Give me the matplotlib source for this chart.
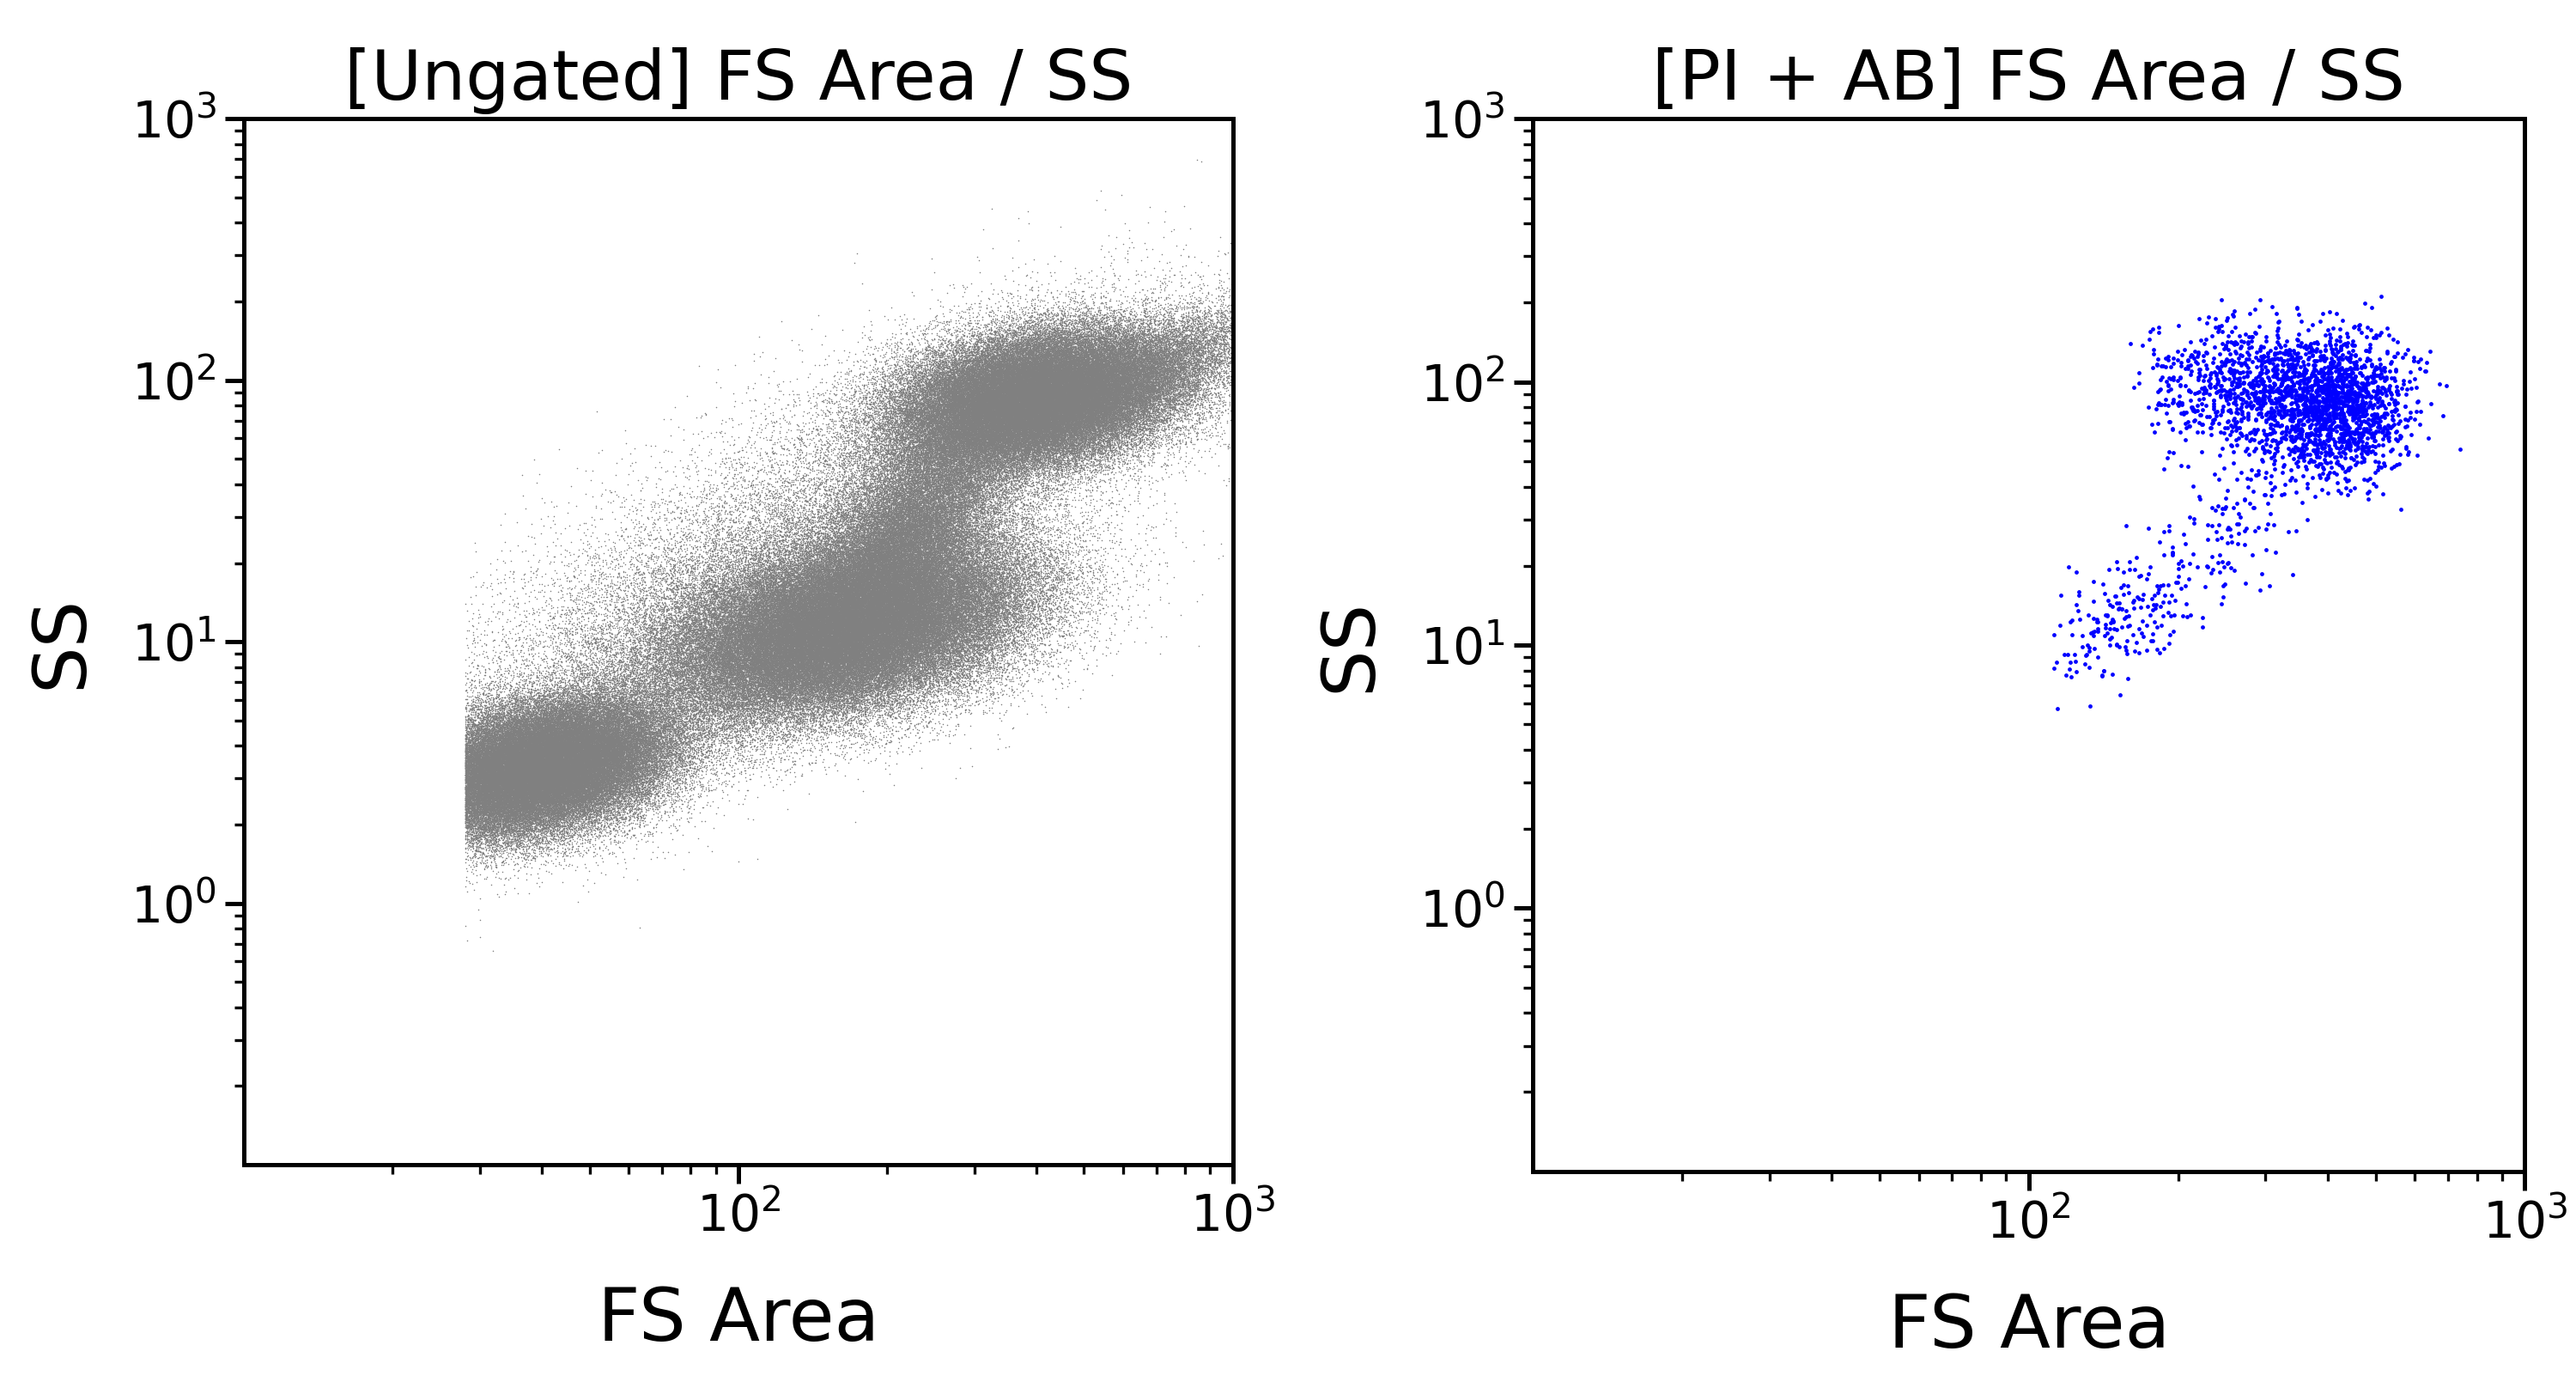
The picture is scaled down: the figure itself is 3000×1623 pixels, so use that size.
import numpy as np
import matplotlib
matplotlib.use("Agg")
import matplotlib.pyplot as plt
from matplotlib.ticker import LogLocator, NullFormatter

# Population descriptors (log10 FS, log10 SS centre, spreads, corr, count)
ung_cx = [1.60, 2.22, 2.60, 2.35, 2.10, 2.85]
ung_cy = [0.52, 1.05, 1.93, 1.45, 1.30, 2.05]
ung_sx = [0.13, 0.18, 0.14, 0.10, 0.38, 0.12]
ung_sy = [0.13, 0.17, 0.13, 0.20, 0.45, 0.13]
ung_r  = [0.35, 0.40, 0.30, 0.60, 0.80, 0.70]
ung_n  = [90000, 110000, 90000, 25000, 25000, 8000]

gat_cx = [2.62, 2.45, 2.20, 2.40]
gat_cy = [1.90, 1.98, 1.10, 1.45]
gat_sx = [0.07, 0.10, 0.09, 0.08]
gat_sy = [0.13, 0.12, 0.14, 0.18]
gat_r  = [0.05, 0.00, 0.55, 0.50]
gat_n  = [1500, 800, 200, 120]

rng = np.random.default_rng(3)

def make(cx, cy, sx, sy, r, n, xmin):
    xs, ys = [], []
    for a, b, c, d, e, k in zip(cx, cy, sx, sy, r, n):
        cov = [[c * c, e * c * d], [e * c * d, d * d]]
        p = rng.multivariate_normal([a, b], cov, k)
        xs.append(p[:, 0]); ys.append(p[:, 1])
    x = np.concatenate(xs); y = np.concatenate(ys)
    m = (x > xmin) & (x < 3.0) & (y > -1) & (y < 3)
    return 10 ** x[m], 10 ** y[m]

ux, uy = make(ung_cx, ung_cy, ung_sx, ung_sy, ung_r, ung_n, np.log10(28))
gx, gy = make(gat_cx, gat_cy, gat_sx, gat_sy, gat_r, gat_n, np.log10(110))

fig = plt.figure(figsize=(15, 8.115), dpi=200)
ax1 = fig.add_axes([148/1563, 1 - 706/845, 600/1563, 634/845])
ax2 = fig.add_axes([930/1563, 1 - 710/845, 602/1563, 638/845])

ax1.scatter(ux, uy, s=0.3, c="#808080", linewidths=0, rasterized=True)
ax2.scatter(gx, gy, s=3, c="#0000ff", linewidths=0)

for ax, t in [(ax1, "[Ungated] FS Area / SS"), (ax2, "[PI + AB] FS Area / SS")]:
    ax.set_xscale("log"); ax.set_yscale("log")
    ax.set_xlim(10, 1000); ax.set_ylim(0.1, 1000)
    ax.set_xticks([100, 1000]); ax.set_yticks([1, 10, 100, 1000])
    ax.xaxis.set_minor_locator(LogLocator(base=10, subs=np.arange(2, 10)))
    ax.yaxis.set_minor_locator(LogLocator(base=10, subs=np.arange(2, 10)))
    ax.xaxis.set_minor_formatter(NullFormatter()); ax.yaxis.set_minor_formatter(NullFormatter())
    ax.tick_params(which="major", length=8, width=1.8, labelsize=21)
    ax.tick_params(which="minor", length=4, width=1.2)
    for s in ax.spines.values():
        s.set_linewidth(1.8)
    ax.set_title(t, fontsize=29, pad=8)
    ax.set_xlabel("FS Area", fontsize=31, labelpad=18)
    ax.set_ylabel("SS", fontsize=31, labelpad=14)

fig.savefig("out.png", dpi=200)
